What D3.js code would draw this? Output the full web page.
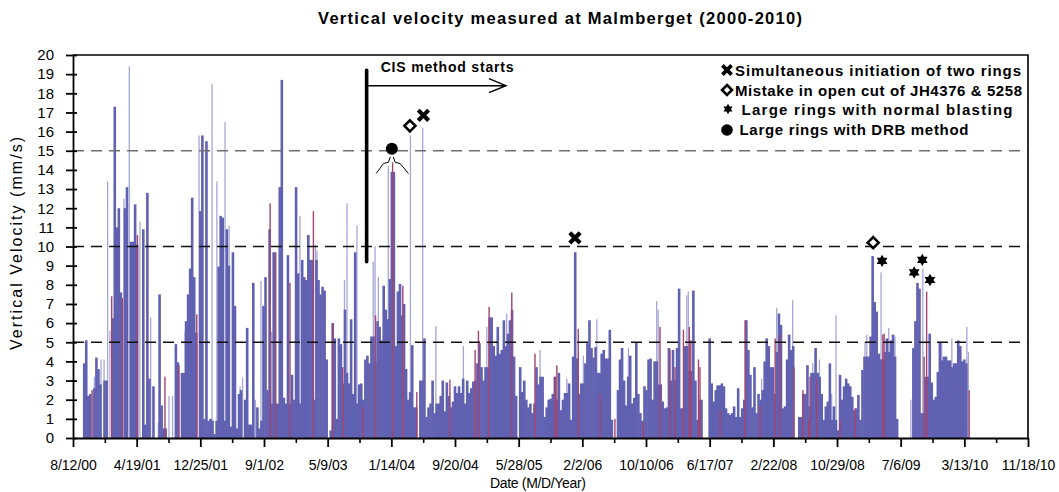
<!DOCTYPE html>
<html>
<head>
<meta charset="utf-8">
<script src="https://cdn.jsdelivr.net/npm/d3@7"></script>
<style>
  body { margin: 0; background: #fff; }
  svg { display: block; font-family: "Liberation Sans", Arial, sans-serif; }
</style>
</head>
<body>
<svg id="chart" width="1059" height="492"></svg>
<script>
// ---- axis categories ------------------------------------------------------
const dateTickLabels = ["8/12/00", "4/19/01", "12/25/01", "9/1/02", "5/9/03", "1/14/04",
  "9/20/04", "5/28/05", "2/2/06", "10/10/06", "6/17/07", "2/22/08", "10/29/08",
  "7/6/09", "3/13/10", "11/18/10"];
const velocityTicks = [0, 1, 2, 3, 4, 5, 6, 7, 8, 9, 10, 11, 12, 13, 14, 15, 16, 17, 18, 19, 20];
const thresholdLevels = [5, 10, 15];

// ---- main record: peak vertical velocity (mm/s) per 8-day period ----------
const periodStart = "8/24/00";
const periodDays = 8;
const velocity = [
  0, 0, 0, 0, 3.9, 5.1, 2.2, 2.3, 0, 2.6,
  4.2, 3.6, 2.8, 0, 3.0, 3.0, 0, 0, 6.25, 17.3,
  11.0, 12.0, 7.6, 0, 12.0, 13.1, 0, 10.25, 10.25, 12.2,
  10.1, 0, 0, 10.9, 0.7, 12.8, 3.1, 0, 2.7, 0,
  0, 7.5, 1.7, 0.5, 0.5, 0, 0, 0, 0, 4.9,
  3.95, 0, 3.4, 3.4, 6.1, 7.5, 8.85, 12.55, 8.4, 5.5,
  0, 11.85, 15.8, 1.0, 15.5, 0.9, 1.0, 0.9, 0.2, 0.9,
  8.95, 11.6, 11.5, 0.9, 10.9, 9.0, 0.6, 9.7, 6.9, 0.5,
  2.3, 2.5, 0, 2.0, 5.75, 0.7, 0.7, 8.1, 0, 1.6,
  0.5, 0.9, 6.9, 8.4, 2.5, 10.9, 1.8, 9.7, 1.8, 1.8,
  13.1, 18.7, 2.1, 1.8, 9.55, 1.8, 3.3, 2.0, 13.1, 8.6,
  1.8, 9.3, 8.4, 8.25, 10.6, 9.3, 9.3, 2.0, 9.3, 8.25,
  7.5, 7.9, 7.7, 4.1, 0, 0.4, 6.0, 5.2, 1.0, 5.2,
  4.9, 2.85, 6.7, 3.4, 2.85, 6.2, 2.3, 9.7, 1.8, 2.8,
  2.85, 2.0, 4.1, 4.3, 3.9, 5.3, 5.3, 4.0, 6.1, 5.8,
  5.1, 7.95, 6.7, 6.2, 8.3, 13.9, 13.9, 4.8, 7.65, 8.05,
  6.4, 7.0, 3.6, 2.0, 2.4, 4.85, 1.6, 1.6, 0, 3.0,
  3.0, 5.2, 1.1, 1.6, 1.8, 3.0, 1.3, 1.8, 1.8, 2.2,
  3.0, 1.4, 2.9, 2.2, 1.6, 1.9, 2.7, 2.35, 2.7, 2.35,
  3.1, 1.8, 3.0, 2.35, 2.6, 2.95, 3.0, 3.9, 4.95, 3.7,
  3.0, 3.7, 3.7, 6.3, 6.3, 4.8, 4.3, 5.8, 4.4, 4.6,
  6.15, 4.8, 5.45, 6.15, 6.7, 4.25, 2.2, 0, 3.7, 2.4,
  3.0, 2.0, 1.6, 1.8, 1.3, 1.8, 3.7, 2.8, 3.2, 3.2,
  1.1, 1.6, 2.0, 2.05, 2.3, 3.2, 2.0, 3.4, 1.45, 2.0,
  2.35, 2.35, 2.85, 0.95, 4.25, 9.7, 4.15, 2.3, 2.85, 2.85,
  3.9, 4.95, 6.15, 4.7, 4.2, 4.75, 3.4, 3.4, 4.4, 4.6,
  4.15, 4.15, 5.65, 0.95, 0, 0, 2.5, 4.1, 4.7, 3.0,
  1.7, 3.2, 4.3, 1.8, 2.1, 5.0, 2.3, 1.3, 0.9, 2.7,
  2.5, 4.1, 4.15, 2.0, 4.0, 4.0, 2.8, 2.8, 1.9, 1.55,
  1.6, 4.7, 3.0, 4.6, 3.0, 4.7, 7.8, 1.55, 1.55, 4.8,
  4.8, 3.5, 3.5, 7.7, 3.0, 0.95, 2.0, 2.0, 0, 0,
  0, 5.2, 2.85, 1.9, 2.5, 2.75, 2.75, 2.85, 2.7, 1.55,
  1.3, 1.2, 1.3, 1.65, 1.1, 2.6, 1.1, 1.55, 2.0, 6.15,
  4.6, 3.3, 1.6, 3.7, 1.3, 2.3, 2.0, 2.5, 4.0, 5.2,
  4.8, 3.7, 3.7, 2.3, 4.5, 6.5, 5.9, 1.55, 1.65, 4.1,
  5.4, 4.6, 4.8, 0, 0, 1.1, 1.1, 2.3, 2.3, 3.8,
  1.65, 3.4, 3.4, 4.7, 3.4, 3.2, 2.3, 0.95, 1.65, 1.9,
  3.9, 0.95, 1.65, 0.95, 0.4, 3.3, 2.0, 2.7, 3.1, 2.85,
  2.7, 2.15, 1.45, 1.55, 2.25, 0.95, 3.55, 4.25, 4.25, 4.25,
  5.3, 9.5, 7.1, 6.6, 4.4, 4.1, 4.1, 4.5, 5.2, 4.5,
  5.1, 5.4, 4.25, 1.0, 0, 0, 0, 0, 0, 0,
  0, 4.7, 6.1, 8.1, 7.8, 1.3, 1.3, 3.2, 3.2, 5.45,
  2.9, 2.0, 2.15, 3.45, 5.0, 4.05, 4.25, 4.25, 4.05, 4.05,
  3.7, 3.9, 3.9, 5.1, 4.8, 4.0, 4.1, 3.9, 0, 0
];

// ---- individual blasts, second geophone (days after 8/12/00) ---------------
const recordStart = "8/12/00";
const daysB = [84, 110, 122, 136, 145, 200, 221, 263, 305, 335, 377, 391, 440, 495, 546,
  565, 597, 613, 656, 666, 716, 738, 780, 822, 891, 952, 958, 1066, 1076, 1115, 1179,
  1186, 1199, 1238, 1325, 1373, 1425, 1533, 1625, 1703, 1834, 1939, 2004, 2057, 2181,
  2292, 2298, 2410, 2416, 2528, 2704, 2763, 2826, 2905, 2931, 2979, 2996, 3110, 3117,
  3173, 3203, 3228, 3290, 3309, 3337, 3411, 3451, 3503, 3510, 3516];
const velocityB = [3.2, 4.1, 4.1, 13.4, 5.6, 12.5, 19.4, 11.3, 6.3, 0.8, 2.2, 2.2, 5.55, 15.8, 18.5,
  13.4, 16.5, 11.1, 2.7, 3.15, 2.0, 8.2, 5.55, 13.4, 11.6, 10.1, 9.8, 8.25, 12.25, 11.1, 9.2,
  10.0, 8.4, 14.2, 15.8, 16.2, 5.85, 4.8, 5.8, 6.5, 4.6, 3.1, 4.3, 6.2, 4.7,
  7.15, 6.7, 7.45, 7.65, 2.7, 3.1, 6.8, 7.2, 3.9, 4.1, 2.3, 6.4, 5.0, 5.4,
  8.65, 5.75, 5.3, 2.0, 4.85, 8.85, 5.0, 5.2, 0.8, 5.8, 4.5];

// ---- individual blasts, third geophone ------------------------------------
const daysC = [75, 152, 194, 253, 361, 416, 486, 774, 796, 852, 944, 1019, 1059, 1138, 1188,
  1255, 1295, 1350, 1480, 1579, 1592, 1634, 1723, 1814, 1893, 1900, 1984, 2070, 2128,
  2240, 2305, 2344, 2364, 2397, 2420, 2426, 2456, 2462, 2541, 2639, 2698, 2757, 2776,
  2831, 2866, 2889, 2894, 2920, 3012, 3071, 3180, 3185, 3342, 3352, 3519];
const velocityC = [2.5, 7.4, 7.3, 10.6, 3.2, 3.8, 6.45, 12.25, 9.7, 8.1, 11.85, 6.0, 3.7, 1.6, 6.4,
  14.4, 7.95, 2.4, 3.05, 4.6, 5.6, 6.85, 7.6, 4.4, 3.2, 3.8, 5.7, 2.3, 1.0,
  0.85, 5.8, 4.6, 3.7, 5.65, 5.8, 5.1, 4.1, 3.7, 1.45, 6.15, 1.65, 5.2, 5.4,
  3.7, 2.5, 0.95, 3.2, 3.1, 0.95, 1.55, 5.4, 5.45, 4.25, 7.65, 2.5];

// ---- notable events ------------------------------------------------------
const eventLegend = ["Simultaneous initiation of two rings", "Mistake in open cut of JH4376 & 5258",
  "Large rings with normal blasting", "Large rings with DRB method"];
const eventKinds = ["cross", "diamond", "star", "dot"];
const eventDays = [1376, 1971, 1323, 3142, 3177, 3303, 3335, 3365, 1252];
const eventValues = [16.85, 10.45, 16.3, 10.2, 9.25, 8.65, 9.3, 8.25, 15.1];
const eventKind = ["cross", "cross", "diamond", "diamond", "star", "star", "star", "star", "dot"];

// CIS method introduction (day, line span in mm/s, arrow end day)
const cisStartDay = 1153;
const cisSpan = [9.2, 19.2];
const cisArrowLevel = 18.4;
const cisArrowEndDay = 1700;

// ---- helpers --------------------------------------------------------------
const DAY = 864e5;
function parseMDY(s) {
  const [m, d, y] = s.split("/").map(Number);
  return new Date(Date.UTC(2000 + y, m - 1, d));
}
const t0 = parseMDY(recordStart);
const dayToDate = n => new Date(t0.getTime() + n * DAY);
const p0 = parseMDY(periodStart);

const majorDates = dateTickLabels.map(parseMDY);
const minorDates = d3.pairs(majorDates).map(([a, b]) => new Date((a.getTime() + b.getTime()) / 2));

// ---- layout ---------------------------------------------------------------
const svg = d3.select("#chart");
const plot = { left: 73, right: 1028, top: 55, bottom: 438 };

const x = d3.scaleUtc()
  .domain([majorDates[0], majorDates[majorDates.length - 1]])
  .range([plot.left, plot.right]);
const y = d3.scaleLinear().domain([0, 20]).range([plot.bottom, plot.top]);

const colours = { main: "#6161b2", b: "#a7a7d7", c: "#a2456f" };

// ---- bars -----------------------------------------------------------------
const barsB = daysB.map((d, i) => ({ date: dayToDate(d), v: velocityB[i] }));
const barsA = velocity.map((v, i) => ({ date: new Date(p0.getTime() + i * periodDays * DAY), v }));
const barsC = daysC.map((d, i) => ({ date: dayToDate(d), v: velocityC[i] }));

function drawBars(data, width, fill) {
  svg.append("g").selectAll("rect")
    .data(data.filter(d => d.v > 0))
    .join("rect")
    .attr("x", d => x(d.date) - width / 2)
    .attr("y", d => y(d.v))
    .attr("width", width)
    .attr("height", d => y(0) - y(d.v))
    .attr("fill", fill);
}
drawBars(barsB, 1.3, colours.b);
drawBars(barsA, 2.6, colours.main);
drawBars(barsC, 1.4, colours.c);

// ---- threshold lines ------------------------------------------------------
svg.append("g").selectAll("line")
  .data(thresholdLevels)
  .join("line")
  .attr("x1", plot.left).attr("x2", plot.right)
  .attr("y1", d => y(d)).attr("y2", d => y(d))
  .attr("stroke", d => d === 15 ? "#6e6e6e" : "#111")
  .attr("stroke-width", 1.4)
  .attr("stroke-dasharray", "11,7");

// ---- frame ----------------------------------------------------------------
svg.append("path")
  .attr("d", `M${plot.left},${plot.top}H${plot.right}V${plot.bottom}`)
  .attr("fill", "none").attr("stroke", "#000").attr("stroke-width", 1.6);

// ---- axes -----------------------------------------------------------------
const yAxis = svg.append("g")
  .attr("transform", `translate(${plot.left},0)`)
  .call(d3.axisLeft(y).tickValues(velocityTicks).tickSizeInner(7).tickSizeOuter(0).tickPadding(12));
yAxis.select(".domain").attr("stroke-width", 1.8);
yAxis.selectAll(".tick line").attr("x2", -7).attr("x1", 4).attr("stroke-width", 1.8);
yAxis.selectAll(".tick text").attr("font-size", 15).attr("fill", "#000")
  .attr("font-family", "Liberation Sans, Arial, sans-serif");

const xAxis = svg.append("g")
  .attr("transform", `translate(0,${plot.bottom})`)
  .call(d3.axisBottom(x).tickValues(majorDates).tickFormat((d, i) => dateTickLabels[i])
    .tickSizeInner(9).tickSizeOuter(0).tickPadding(13));
xAxis.select(".domain").attr("stroke-width", 2);
xAxis.selectAll(".tick line").attr("stroke-width", 1.8);
xAxis.selectAll(".tick text").attr("font-size", 14).attr("fill", "#000")
  .attr("font-family", "Liberation Sans, Arial, sans-serif");

const xMinor = svg.append("g")
  .attr("transform", `translate(0,${plot.bottom})`)
  .call(d3.axisBottom(x).tickValues(minorDates).tickFormat("").tickSizeInner(5).tickSizeOuter(0));
xMinor.select(".domain").remove();
xMinor.selectAll(".tick line").attr("stroke-width", 1.6);

// ---- titles ---------------------------------------------------------------
svg.append("text")
  .attr("x", 560).attr("y", 24)
  .attr("text-anchor", "middle")
  .attr("font-size", 16.5).attr("font-weight", "bold")
  .attr("textLength", 484).attr("lengthAdjust", "spacing")
  .text("Vertical velocity measured at Malmberget (2000-2010)");

svg.append("text")
  .attr("transform", "translate(22,243.5) rotate(-90)")
  .attr("text-anchor", "middle")
  .attr("font-size", 16)
  .attr("textLength", 213).attr("lengthAdjust", "spacing")
  .text("Vertical Velocity (mm/s)");

svg.append("text")
  .attr("x", 538).attr("y", 488)
  .attr("text-anchor", "middle")
  .attr("font-size", 14)
  .attr("textLength", 96).attr("lengthAdjust", "spacing")
  .text("Date (M/D/Year)");

// ---- CIS annotation -------------------------------------------------------
const cisX = x(dayToDate(cisStartDay));
svg.append("line")
  .attr("x1", cisX).attr("x2", cisX)
  .attr("y1", y(cisSpan[0])).attr("y2", y(cisSpan[1]))
  .attr("stroke", "#000").attr("stroke-width", 3.6).attr("stroke-linecap", "round");
const arrowY = y(cisArrowLevel);
const arrowEnd = x(dayToDate(cisArrowEndDay));
svg.append("path")
  .attr("d", `M${cisX},${arrowY}H${arrowEnd}M${arrowEnd - 17},${arrowY - 7}L${arrowEnd},${arrowY}L${arrowEnd - 17},${arrowY + 7}`)
  .attr("fill", "none").attr("stroke", "#000").attr("stroke-width", 1.5);
svg.append("text")
  .attr("x", cisX + 14).attr("y", y(19.1))
  .attr("font-size", 14).attr("font-weight", "bold")
  .attr("textLength", 133).attr("lengthAdjust", "spacing")
  .text("CIS method starts");

// ---- event symbols --------------------------------------------------------
function hexagram(r) {
  const pt = a => [r * Math.cos(a), r * Math.sin(a)];
  const tri = start => [0, 1, 2].map(k => pt(start + k * 2 * Math.PI / 3));
  const toPath = pts => "M" + pts.map(p => p.join(",")).join("L") + "Z";
  return toPath(tri(-Math.PI / 2)) + toPath(tri(Math.PI / 2));
}
function drawSymbol(g, kind, cx, cy, s) {
  if (kind === "cross") {
    g.append("path")
      .attr("d", `M${cx - s},${cy - s}L${cx + s},${cy + s}M${cx - s},${cy + s}L${cx + s},${cy - s}`)
      .attr("stroke", "#000").attr("stroke-width", s * 0.8).attr("fill", "none");
  } else if (kind === "diamond") {
    g.append("path")
      .attr("d", `M${cx},${cy - s}L${cx + s},${cy}L${cx},${cy + s}L${cx - s},${cy}Z`)
      .attr("stroke", "#000").attr("stroke-width", 2.6).attr("fill", "#fff");
  } else if (kind === "star") {
    g.append("path")
      .attr("transform", `translate(${cx},${cy})`)
      .attr("d", hexagram(s)).attr("fill", "#000");
  } else {
    g.append("circle").attr("cx", cx).attr("cy", cy).attr("r", s).attr("fill", "#000");
  }
}

const marks = svg.append("g");
const symbolSize = { cross: 5.2, diamond: 5.5, star: 6.2, dot: 6 };
eventDays.forEach((d, i) => {
  const cx = x(dayToDate(d)), cy = y(eventValues[i]);
  drawSymbol(marks, eventKind[i], cx, cy, symbolSize[eventKind[i]]);
  if (eventKind[i] === "dot") {
    // support legs under the DRB marker
    marks.append("path")
      .attr("d", `M${cx - 1.5},${cy + 8}L${cx - 3.4},${cy + 13.4}L${cx - 8.4},${cy + 14.7}L${cx - 15.7},${cy + 24.7}` +
                 `M${cx + 1.5},${cy + 8}L${cx + 3.3},${cy + 13.4}L${cx + 8.3},${cy + 14.7}L${cx + 16.6},${cy + 24.7}`)
      .attr("fill", "none").attr("stroke", "#000").attr("stroke-width", 1);
  }
});

// ---- legend ---------------------------------------------------------------
const legend = svg.append("g");
const legendRows = [
  { sx: 727, sy: 70, s: 4.6, tx: 735, ty: 75.5, w: 286 },
  { sx: 727, sy: 90, s: 5, tx: 735, ty: 95.5, w: 287 },
  { sx: 728, sy: 109, s: 5.2, tx: 741.5, ty: 115, w: 271 },
  { sx: 727, sy: 130, s: 5.8, tx: 739.5, ty: 135, w: 229 }
];
legendRows.forEach((r, i) => {
  drawSymbol(legend, eventKinds[i], r.sx, r.sy, r.s);
  legend.append("text")
    .attr("x", r.tx).attr("y", r.ty)
    .attr("font-size", 15).attr("font-weight", "bold")
    .attr("textLength", r.w).attr("lengthAdjust", "spacing")
    .text(eventLegend[i]);
});
</script>
</body>
</html>
